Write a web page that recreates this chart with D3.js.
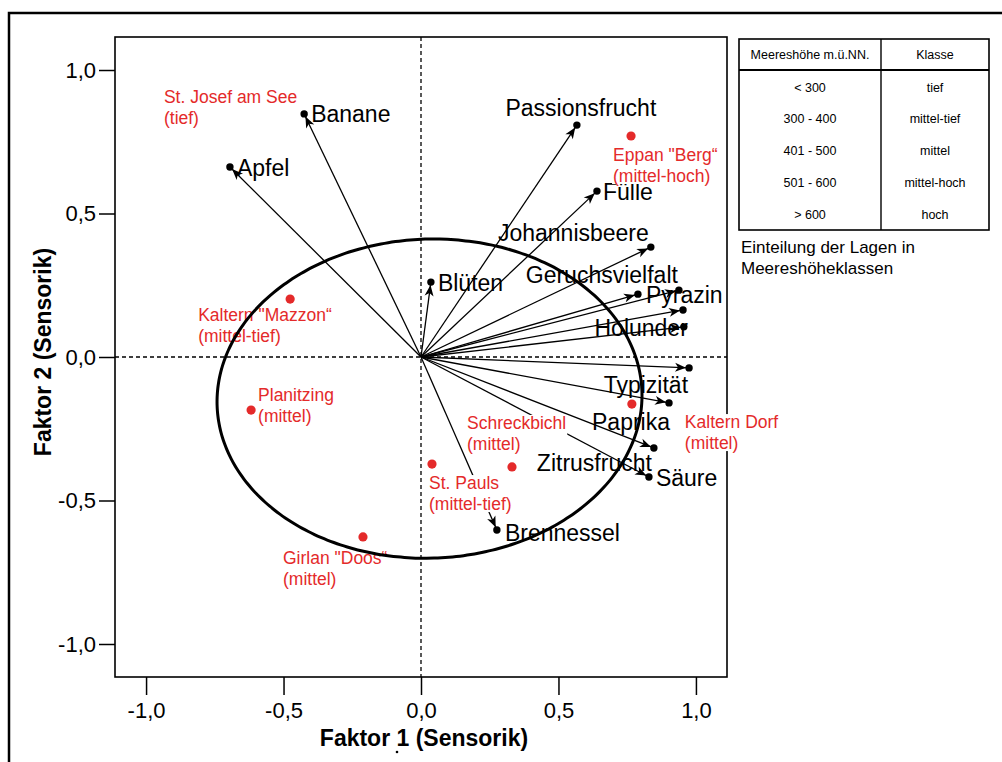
<!DOCTYPE html>
<html>
<head>
<meta charset="utf-8">
<script src="https://cdn.jsdelivr.net/npm/d3@7"></script>
<style>
  html, body { margin: 0; padding: 0; background: #fff; }
  svg { display: block; font-family: "Liberation Sans", Arial, sans-serif; }
</style>
</head>
<body>
<svg id="chart" width="1002" height="762"></svg>
<script>
// Sensory attributes (factor loadings) drawn as arrows from the origin
const attributes = ["Banane", "Apfel", "Passionsfrucht", "Fülle", "Johannisbeere", "Blüten",
  "Geruchsvielfalt", "Pyrazin", "", "Holunder", "Typizität", "Paprika", "Zitrusfrucht", "Säure", "Brennessel"];
const factor1 = [-0.425, -0.695, 0.567, 0.640, 0.836, 0.036, 0.789, 0.938, 0.953, 0.956, 0.975, 0.902, 0.847, 0.829, 0.276];
const factor2 = [0.847, 0.662, 0.808, 0.578, 0.383, 0.261, 0.219, 0.233, 0.164, 0.105, -0.038, -0.160, -0.317, -0.418, -0.603];

// Vineyard sites (scores) with altitude class
const sites = ["St. Josef am See", "Eppan \"Berg“", "Kaltern \"Mazzon“", "Planitzing", "Girlan \"Doos“", "St. Pauls", "Schreckbichl", "Kaltern Dorf"];
const siteClass = ["(tief)", "(mittel-hoch)", "(mittel-tief)", "(mittel)", "(mittel)", "(mittel-tief)", "(mittel)", "(mittel)"];
const siteF1 = [-0.564, 0.764, -0.476, -0.618, -0.211, 0.040, 0.331, 0.767];
const siteF2 = [0.829, 0.770, 0.202, -0.185, -0.627, -0.373, -0.383, -0.164];

// Axis ticks
const tickValues = [-1, -0.5, 0, 0.5, 1];
const tickLabels = ["-1,0", "-0,5", "0,0", "0,5", "1,0"];

// Ellipse: centre, semi-axes (factor units), tilt in degrees
const ellipse = { cx: 0.031, cy: -0.145, rx: 0.773, ry: 0.556, tilt: 1.7 };

// Altitude class table
const altitudeRanges = ["< 300", "300 - 400", "401 - 500", "501 - 600", "> 600"];
const altitudeClasses = ["tief", "mittel-tief", "mittel", "mittel-hoch", "hoch"];

// Label placement (pixel offsets from the point)
const attrLabelPos = [
  {dx: 7, dy: 8, a: "start"}, {dx: 7, dy: 9, a: "start"}, {dx: 4, dy: -9, a: "middle"},
  {dx: 6, dy: 9, a: "start"}, {dx: -2, dy: -6, a: "end"}, {dx: 7, dy: 9, a: "start"},
  {dx: 40, dy: -11, a: "end"}, {dx: -33, dy: 13, a: "start"}, {dx: 0, dy: 0, a: "start"},
  {dx: 4, dy: 9, a: "end"}, {dx: -1, dy: 25, a: "end"}, {dx: 1, dy: 27, a: "end"},
  {dx: -2, dy: 23, a: "end"}, {dx: 7, dy: 9, a: "start"}, {dx: 8, dy: 11, a: "start"}
];
const siteLabelPos = [
  {dx: -102, dy: -16}, {dx: -18, dy: 25}, {dx: -92, dy: 22}, {dx: 7, dy: -9},
  {dx: -80, dy: 27}, {dx: -3, dy: 25}, {dx: -45, dy: -38}, {dx: 53, dy: 24}
];

const RED = "#e42a2a";
const svg = d3.select("#chart");

// outer frame
svg.append("rect").attr("x", 9).attr("y", 13).attr("width", 1200).attr("height", 900)
  .attr("fill", "none").attr("stroke", "#000").attr("stroke-width", 2.5);

const plot = { left: 115, right: 727, top: 37, bottom: 677 };
const x = d3.scaleLinear().domain([-1.113, 1.113]).range([plot.left, plot.right]);
const y = d3.scaleLinear().domain([-1.115, 1.115]).range([plot.bottom, plot.top]);
const fmt = d => tickLabels[tickValues.indexOf(d)];

// axes
const gx = svg.append("g").attr("transform", `translate(0,${plot.bottom})`)
  .call(d3.axisBottom(x).tickValues(tickValues).tickFormat(fmt).tickSize(18).tickPadding(7));
const gy = svg.append("g").attr("transform", `translate(${plot.left},0)`)
  .call(d3.axisLeft(y).tickValues(tickValues).tickFormat(fmt).tickSize(16).tickPadding(3));
[gx, gy].forEach(g => {
  g.select(".domain").remove();
  g.selectAll("line").attr("stroke", "#000").attr("stroke-width", 1.5);
  g.selectAll("text").attr("font-size", 22).attr("fill", "#000")
    .attr("font-family", "Liberation Sans, Arial, sans-serif");
});

// plot frame
svg.append("rect").attr("x", plot.left).attr("y", plot.top)
  .attr("width", plot.right - plot.left).attr("height", plot.bottom - plot.top)
  .attr("fill", "none").attr("stroke", "#000").attr("stroke-width", 1.6);

// zero reference lines
svg.append("line").attr("x1", x(0)).attr("x2", x(0)).attr("y1", plot.top).attr("y2", plot.bottom)
  .attr("stroke", "#000").attr("stroke-width", 1.3).attr("stroke-dasharray", "4,3");
svg.append("line").attr("x1", plot.left).attr("x2", plot.right).attr("y1", y(0)).attr("y2", y(0))
  .attr("stroke", "#000").attr("stroke-width", 1.3).attr("stroke-dasharray", "4,3");

// axis titles
svg.append("text").attr("x", 424).attr("y", 746).attr("text-anchor", "middle")
  .attr("font-size", 23).attr("font-weight", "bold").text("Faktor 1 (Sensorik)");
svg.append("text").attr("transform", "translate(51,352) rotate(-90)").attr("text-anchor", "middle")
  .attr("font-size", 23).attr("font-weight", "bold").text("Faktor 2 (Sensorik)");
svg.append("circle").attr("cx", 397).attr("cy", 752).attr("r", 1.3).attr("fill", "#000");

// arrows
const arrows = attributes.map((name, i) => ({ name, f1: factor1[i], f2: factor2[i], pos: attrLabelPos[i] }));
const ag = svg.append("g");
arrows.forEach(d => {
  const x0 = x(0), y0 = y(0), x1 = x(d.f1), y1 = y(d.f2);
  const ang = Math.atan2(y1 - y0, x1 - x0);
  ag.append("line").attr("x1", x0).attr("y1", y0).attr("x2", x1).attr("y2", y1)
    .attr("stroke", "#000").attr("stroke-width", 1.3);
  // arrowhead just short of the end dot
  const tipX = x1 - 3 * Math.cos(ang), tipY = y1 - 3 * Math.sin(ang);
  const L = 11, W = 4.5;
  const bx = tipX - L * Math.cos(ang), by = tipY - L * Math.sin(ang);
  const px = -Math.sin(ang) * W, py = Math.cos(ang) * W;
  ag.append("path")
    .attr("d", `M${tipX},${tipY}L${bx + px},${by + py}L${bx + 3 * Math.cos(ang)},${by + 3 * Math.sin(ang)}L${bx - px},${by - py}Z`)
    .attr("fill", "#000");
  ag.append("circle").attr("cx", x1).attr("cy", y1).attr("r", 3.7).attr("fill", "#000");
  if (d.name) {
    ag.append("text").attr("x", x1 + d.pos.dx).attr("y", y1 + d.pos.dy)
      .attr("text-anchor", d.pos.a).attr("font-size", 23).attr("fill", "#000").text(d.name);
  }
});

// sites
const siteData = sites.map((s, i) => ({ s, c: siteClass[i], f1: siteF1[i], f2: siteF2[i], pos: siteLabelPos[i] }));
const sg = svg.append("g");
siteData.forEach(d => {
  const cx = x(d.f1), cy = y(d.f2);
  sg.append("circle").attr("cx", cx).attr("cy", cy).attr("r", 4.6).attr("fill", RED);
  const lg = sg.append("g");
  const bg = lg.append("rect").attr("fill", "#fff");
  const t = lg.append("text").attr("x", cx + d.pos.dx).attr("y", cy + d.pos.dy)
    .attr("font-size", 17.5).attr("fill", RED);
  t.append("tspan").attr("x", cx + d.pos.dx).text(d.s);
  t.append("tspan").attr("x", cx + d.pos.dx).attr("dy", 21).text(d.c);
  const bb = t.node().getBBox();
  bg.attr("x", bb.x - 1).attr("y", bb.y + 2).attr("width", bb.width + 2).attr("height", bb.height - 4);
});

// ellipse, sampled through the scales
const rad = ellipse.tilt * Math.PI / 180;
const ePts = d3.range(0, 361, 2).map(deg => {
  const t = deg * Math.PI / 180;
  const ex = ellipse.rx * Math.cos(t), ey = ellipse.ry * Math.sin(t);
  return [x(ellipse.cx + ex * Math.cos(rad) - ey * Math.sin(rad)),
          y(ellipse.cy + ex * Math.sin(rad) + ey * Math.cos(rad))];
});
svg.append("path").attr("d", d3.line().curve(d3.curveCardinalClosed)(ePts.slice(0, -1)))
  .attr("fill", "none").attr("stroke", "#000").attr("stroke-width", 3);

// altitude class table
const tbl = { x: 739, y: 39, w: 250, h: 191, col: 881, head: 70 };
const tg = svg.append("g");
tg.append("rect").attr("x", tbl.x).attr("y", tbl.y).attr("width", tbl.w).attr("height", tbl.h)
  .attr("fill", "#fff").attr("stroke", "#000").attr("stroke-width", 1.6);
tg.append("line").attr("x1", tbl.x).attr("x2", tbl.x + tbl.w).attr("y1", tbl.head).attr("y2", tbl.head)
  .attr("stroke", "#000").attr("stroke-width", 2.2);
tg.append("line").attr("x1", tbl.col).attr("x2", tbl.col).attr("y1", tbl.y).attr("y2", tbl.y + tbl.h)
  .attr("stroke", "#000").attr("stroke-width", 1.4);
const c1 = (tbl.x + tbl.col) / 2, c2 = (tbl.col + tbl.x + tbl.w) / 2;
tg.append("text").attr("x", c1).attr("y", 59).attr("text-anchor", "middle").attr("font-size", 12.5).text("Meereshöhe m.ü.NN.");
tg.append("text").attr("x", c2).attr("y", 59).attr("text-anchor", "middle").attr("font-size", 12.5).text("Klasse");
const rowY = d3.scalePoint().domain(altitudeRanges).range([87, 214]);
altitudeRanges.forEach((r, i) => {
  tg.append("text").attr("x", c1).attr("y", rowY(r) + 4.5).attr("text-anchor", "middle").attr("font-size", 12.5).text(r);
  tg.append("text").attr("x", c2).attr("y", rowY(r) + 4.5).attr("text-anchor", "middle").attr("font-size", 12.5).text(altitudeClasses[i]);
});
tg.append("text").attr("x", 741).attr("y", 253).attr("font-size", 17).text("Einteilung der Lagen in");
tg.append("text").attr("x", 741).attr("y", 274).attr("font-size", 17).text("Meereshöheklassen");
</script>
</body>
</html>
